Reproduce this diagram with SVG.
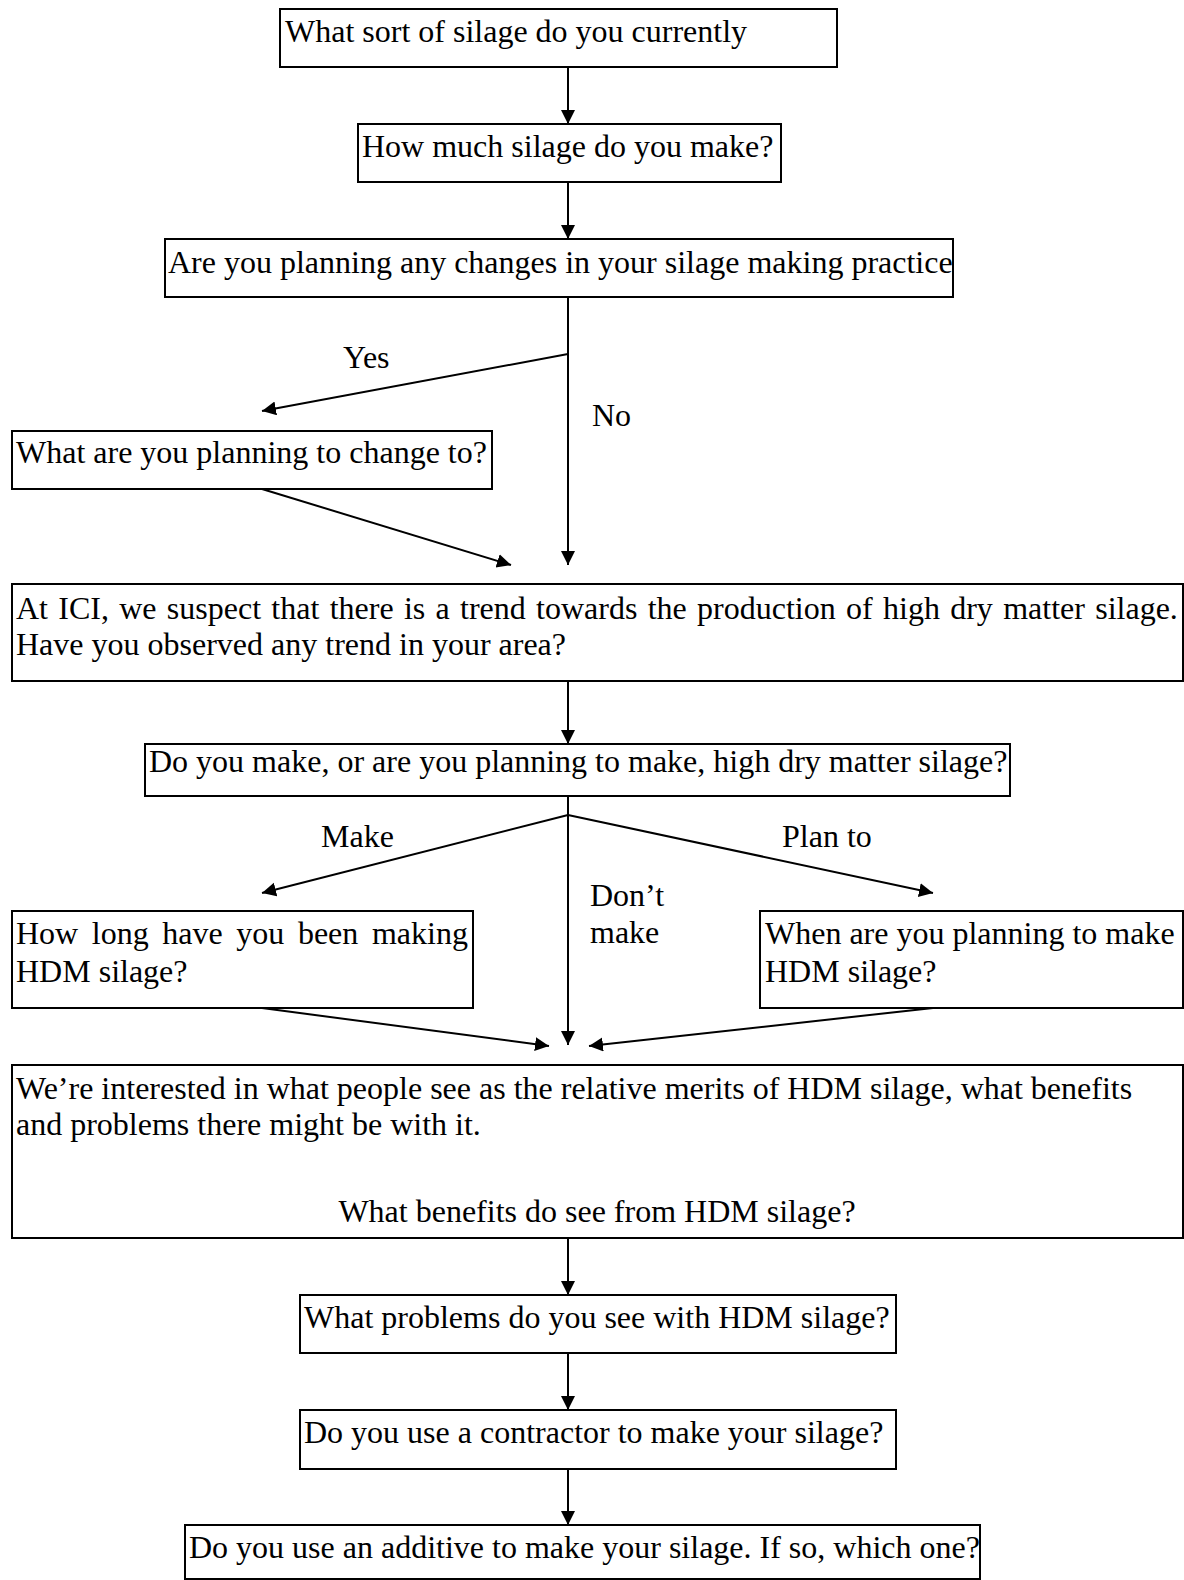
<svg xmlns="http://www.w3.org/2000/svg" width="1184" height="1580" viewBox="0 0 1184 1580">
<style>
  .box { fill: #fff; stroke: #000; stroke-width: 2; }
  .t { font-family: "Liberation Serif", "Times New Roman", serif; font-size: 32px; fill: #000; }
  .c { stroke: #000; stroke-width: 2; fill: none; marker-end: url(#ah); }
</style>
<defs>
  <marker id="ah" markerUnits="userSpaceOnUse" markerWidth="16" markerHeight="16" refX="14" refY="7" orient="auto">
    <path d="M0,0 L14,7 L0,14 z" fill="#000"/>
  </marker>
</defs>
<rect width="1184" height="1580" fill="#fff"/>

<g id="n1"><rect class="box" x="280" y="9" width="557" height="58"/><text class="t" x="285" y="42">What sort of silage do you currently</text></g>
<g id="n2"><rect class="box" x="358" y="124" width="423" height="58"/><text class="t" x="362" y="157">How much silage do you make?</text></g>
<g id="n3"><rect class="box" x="165" y="239" width="788" height="58"/><text class="t" x="168" y="273">Are you planning any changes in your silage making practice</text></g>
<g id="n4"><rect class="box" x="12" y="431" width="480" height="58"/><text class="t" x="16" y="463">What are you planning to change to?</text></g>
<g id="n5"><rect class="box" x="12" y="584" width="1171" height="97"/>
  <text class="t" x="16" y="619" word-spacing="2.3">At ICI, we suspect that there is a trend towards the production of high dry matter silage.</text>
  <text class="t" x="16" y="655">Have you observed any trend in your area?</text></g>
<g id="n6"><rect class="box" x="145" y="744" width="865" height="52"/><text class="t" x="149" y="772">Do you make, or are you planning to make, high dry matter silage?</text></g>
<g id="n7"><rect class="box" x="12" y="911" width="461" height="97"/>
  <text class="t" x="16" y="944" word-spacing="5.6">How long have you been making</text>
  <text class="t" x="16" y="982">HDM silage?</text></g>
<g id="n8"><rect class="box" x="760" y="911" width="423" height="97"/>
  <text class="t" x="765" y="944">When are you planning to make</text>
  <text class="t" x="765" y="982">HDM silage?</text></g>
<g id="n9"><rect class="box" x="12" y="1065" width="1171" height="173"/>
  <text class="t" x="16" y="1099">We’re interested in what people see as the relative merits of HDM silage, what benefits</text>
  <text class="t" x="16" y="1135">and problems there might be with it.</text>
  <text class="t" x="597" y="1222" text-anchor="middle">What benefits do see from HDM silage?</text></g>
<g id="n10"><rect class="box" x="300" y="1295" width="596" height="58"/><text class="t" x="304" y="1328">What problems do you see with HDM silage?</text></g>
<g id="n11"><rect class="box" x="300" y="1410" width="596" height="59"/><text class="t" x="304" y="1443">Do you use a contractor to make your silage?</text></g>
<g id="n12"><rect class="box" x="185" y="1525" width="795" height="54"/><text class="t" x="189" y="1558">Do you use an additive to make your silage. If so, which one?</text></g>

<g id="connectors">
  <line class="c" x1="568" y1="67" x2="568" y2="124"/>
  <line class="c" x1="568" y1="182" x2="568" y2="239"/>
  <line class="c" x1="568" y1="297" x2="568" y2="565"/>
  <line class="c" x1="568" y1="354" x2="262" y2="411"/>
  <line class="c" x1="262" y1="489" x2="511" y2="565"/>
  <line class="c" x1="568" y1="681" x2="568" y2="744"/>
  <line class="c" x1="568" y1="796" x2="568" y2="1045"/>
  <line class="c" x1="568" y1="815" x2="262" y2="893"/>
  <line class="c" x1="568" y1="815" x2="933" y2="893"/>
  <line class="c" x1="262" y1="1008" x2="549" y2="1046"/>
  <line class="c" x1="933" y1="1008" x2="589" y2="1046"/>
  <line class="c" x1="568" y1="1238" x2="568" y2="1295"/>
  <line class="c" x1="568" y1="1353" x2="568" y2="1410"/>
  <line class="c" x1="568" y1="1469" x2="568" y2="1525"/>
  <text class="t" x="343" y="368">Yes</text>
  <text class="t" x="592" y="426">No</text>
  <text class="t" x="321" y="847">Make</text>
  <text class="t" x="782" y="847">Plan to</text>
  <text class="t" x="590" y="906">Don’t</text>
  <text class="t" x="590" y="943">make</text>
</g>
</svg>
